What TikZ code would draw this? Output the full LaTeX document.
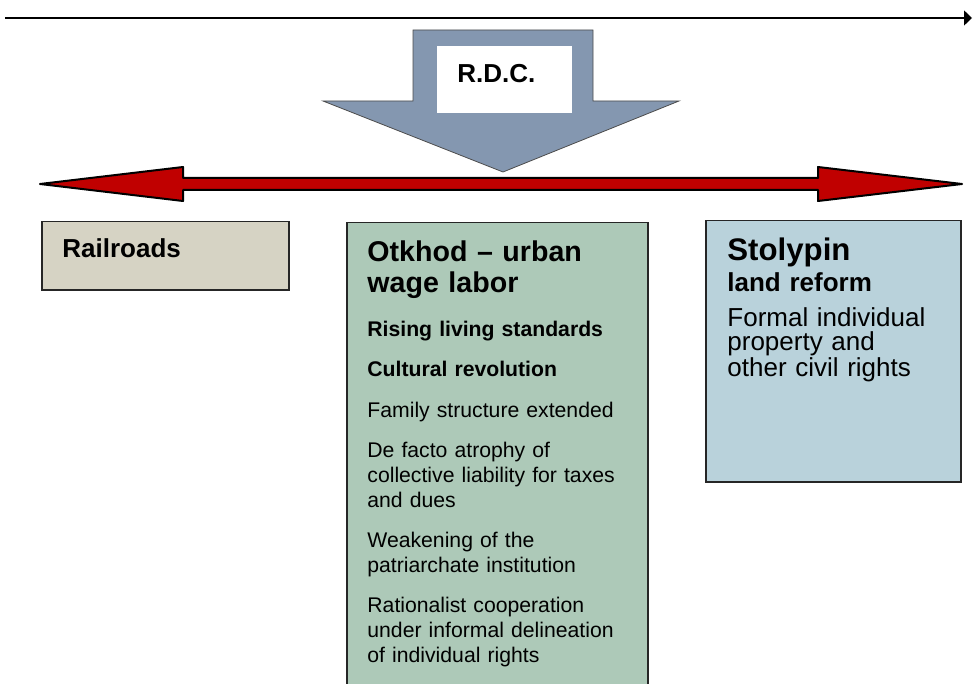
\documentclass[tikz,border=0pt]{standalone}
\usepackage{fontspec}
\setmainfont{Liberation Sans}
\usetikzlibrary{arrows.meta}

\definecolor{rdcblue}{HTML}{8497B0}
\definecolor{arrowred}{HTML}{C00000}
\definecolor{railfill}{HTML}{D6D3C4}
\definecolor{otkhodfill}{HTML}{ADC9B8}
\definecolor{stolfill}{HTML}{B9D2DB}
\setlength{\lineskiplimit}{-20pt}

\begin{document}
\begin{tikzpicture}[x=0.5pt,y=-0.5pt]
        \tikzstyle{every node}=[inner sep=0pt,text=black]
        \tikzstyle{box}=[draw=black!85,line width=0.75pt,anchor=north west]
        \tikzstyle{para}=[anchor=base west,text width=140pt,align=left,font=\fontsize{10.6}{12.5}\selectfont]
        \tikzstyle{parabold}=[para,font=\fontsize{10.6}{12.5}\selectfont\bfseries]
        \useasboundingbox (0,0) rectangle (973,684);

        % time line
        \coordinate (timestart) at (5,18);
        \coordinate (timeend) at (972,18);
        \draw[line width=0.7pt,-{Triangle[length=4pt,width=7.5pt]}] (timestart) -- (timeend);

        % R.D.C. block arrow
        \draw[fill=rdcblue,draw=black!70,line width=0.4pt] (413,30) -- (593,30) -- (593,101) -- (679,101)
            -- (503,172) -- (323,101) -- (413,101) -- cycle;
        \node[fill=white,minimum width=67.5pt,minimum height=33.5pt,anchor=north west] (rdcbox) at (437,46) {};
        \node[anchor=base west,font=\fontsize{13}{15}\selectfont\bfseries] (rdc) at (457,83) {R.D.C.};

        % red double arrow
        \draw[fill=arrowred,line width=1pt,line join=round] (40,184) -- (183,167) -- (183,178) -- (818,178)
            -- (818,167) -- (962,184) -- (818,201) -- (818,190) -- (183,190) -- (183,201) -- cycle;

        % railroads
        \node[box,fill=railfill,minimum width=123.5pt,minimum height=34pt] (railbox) at (41,221) {};
        \node[anchor=base west,font=\fontsize{13}{15}\selectfont\bfseries] (railroads) at (62,257) {Railroads};

        % otkhod
        \node[box,fill=otkhodfill,minimum width=150.5pt,minimum height=236pt] (otkhodbox) at (346,222) {};
        \node[para,font=\fontsize{14.3}{15.5}\selectfont\bfseries] (otkhodtitle) at (367,261) {Otkhod -- urban\\wage labor};
        \node[parabold] (living) at (367,336) {Rising living standards};
        \node[parabold] (cultural) at (367,376) {Cultural revolution};
        \node[para] (family) at (367,417) {Family structure extended};
        \node[para] (atrophy) at (367,457) {De facto atrophy of\\collective liability for taxes\\and dues};
        \node[para] (patriarchate) at (367,547) {Weakening of the\\patriarchate institution};
        \node[para] (cooperation) at (367,612) {Rationalist cooperation\\under informal delineation\\of individual rights};

        % stolypin
        \node[box,fill=stolfill,minimum width=127.5pt,minimum height=130.5pt] (stolbox) at (705,220) {};
        \node[para,font=\fontsize{15.6}{17}\selectfont\bfseries] (stolypin) at (727,260) {Stolypin};
        \node[para,font=\fontsize{13}{15}\selectfont\bfseries] (landreform) at (727,291) {land reform};
        \node[para,text width=120pt,font=\fontsize{13}{12}\selectfont] (civilrights) at (727,326) {Formal individual\\property and\\other civil rights};

\end{tikzpicture}
\end{document}
